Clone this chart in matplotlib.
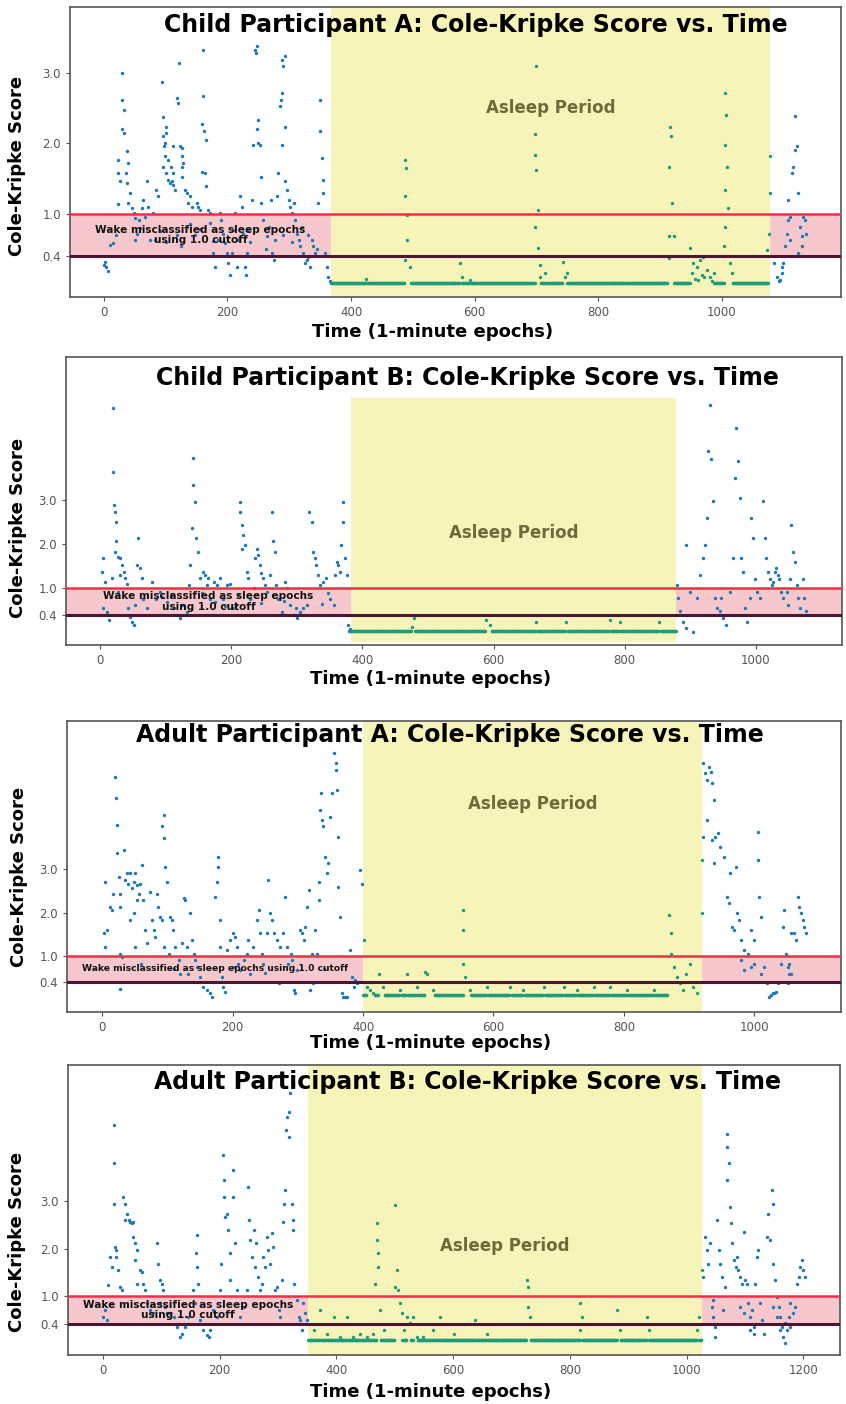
import numpy as np
import matplotlib.pyplot as plt

plt.rcParams['font.family'] = ['DejaVu Sans']

titles = ["Child Participant A: Cole-Kripke Score vs. Time",
          "Child Participant B: Cole-Kripke Score vs. Time",
          "Adult Participant A: Cole-Kripke Score vs. Time",
          "Adult Participant B: Cole-Kripke Score vs. Time"]

# asleep period (epochs) and the floor score while asleep
sleep_start = [368, 383, 400, 351]
sleep_end = [1078, 878, 920, 1027]
floor_level = [0.02, 0.03, 0.09, 0.06]

# (epoch, score)
child_a_pts = [
    (0, 0.28), (1, 0.32), (4, 0.25), (7, 0.19), (10, 0.56), (15, 0.58), (20, 0.7), (23, 1.14), (26, 1.46),
    (23, 1.58), (23, 1.77), (30, 3.0), (29, 2.62), (32, 2.48), (29, 2.2), (32, 2.15), (37, 1.9), (39, 1.72),
    (36, 1.58), (37, 1.44), (42, 1.29), (39, 1.15), (45, 1.08), (48, 1.01), (50, 0.94), (53, 0.72), (50, 0.63),
    (56, 0.91), (58, 0.8), (61, 1.08), (64, 1.2), (66, 0.96), (69, 1.46), (72, 1.1), (74, 0.63), (80, 1.01),
    (85, 1.34), (88, 1.25), (83, 0.63), (90, 0.75), (94, 2.88), (95, 2.38), (96, 2.1), (97, 1.96), (99, 1.82),
    (96, 1.67), (101, 1.58), (104, 1.48), (100, 2.24), (101, 2.15), (99, 2.0), (100, 0.6), (107, 1.44),
    (110, 1.46), (112, 1.41), (108, 1.67), (104, 1.77), (111, 1.58), (112, 1.96), (115, 1.34), (118, 0.7),
    (119, 2.65), (120, 2.57), (121, 3.14), (123, 1.96), (124, 0.55), (126, 1.93), (126, 1.82), (127, 1.67),
    (128, 1.72), (126, 1.53), (131, 1.34), (134, 1.29), (136, 1.15), (139, 1.25), (140, 0.85), (142, 1.1),
    (147, 0.7), (150, 1.15), (153, 1.1), (155, 1.06), (155, 0.78), (158, 1.6), (159, 2.27), (161, 2.67),
    (161, 3.33), (162, 2.17), (164, 1.58), (165, 2.05), (166, 1.39), (169, 1.06), (172, 1.01), (172, 0.87),
    (176, 0.62), (177, 0.44), (180, 0.25), (185, 0.63), (188, 1.01), (190, 0.91), (193, 0.72), (196, 0.58),
    (199, 0.44), (201, 0.3), (204, 0.13), (207, 0.44), (209, 0.77), (212, 1.01), (215, 0.25), (217, 0.63),
    (220, 1.25), (223, 1.1), (225, 0.72), (228, 0.25), (230, 0.13), (231, 0.44), (234, 0.77), (237, 0.6),
    (239, 1.2), (242, 1.98), (244, 3.33), (246, 3.29), (247, 3.38), (250, 2.0), (250, 2.34), (248, 2.2),
    (253, 1.98), (255, 1.53), (255, 1.15), (258, 0.91), (262, 0.5), (264, 0.68), (268, 0.82), (270, 1.2),
    (272, 0.44), (275, 0.35), (277, 0.63), (280, 1.25), (282, 1.58), (285, 2.53), (286, 2.62), (288, 2.72),
    (288, 3.19), (290, 3.1), (293, 3.24), (293, 2.24), (288, 1.98), (290, 0.7), (293, 1.46), (296, 1.34),
    (299, 1.2), (301, 1.1), (304, 1.01), (305, 0.6), (307, 1.15), (309, 0.91), (312, 0.72), (315, 0.63),
    (317, 0.54), (320, 0.82), (323, 0.44), (325, 0.3), (328, 0.35), (330, 0.7), (331, 0.39), (334, 0.25),
    (336, 0.63), (339, 0.54), (342, 0.44), (345, 0.5), (347, 1.15), (349, 2.17), (350, 2.62), (353, 1.79),
    (354, 1.48), (355, 1.29), (358, 0.44), (361, 0.25), (363, 0.11), (366, 0.04),
    # asleep
    (425, 0.08), (487, 1.77), (489, 1.65), (487, 1.25), (490, 0.99), (491, 0.63), (488, 0.35), (496, 0.25),
    (576, 0.3), (579, 0.11), (593, 0.06), (700, 3.1), (698, 2.13), (698, 1.84), (700, 1.63), (703, 1.06),
    (698, 0.82), (703, 0.52), (706, 0.28), (706, 0.11), (714, 0.16), (743, 0.32), (746, 0.11), (749, 0.16),
    (917, 2.24), (918, 2.1), (914, 1.67), (920, 1.15), (914, 0.68), (922, 0.68), (914, 0.38), (949, 0.52),
    (954, 0.3), (960, 0.25), (965, 0.35), (970, 0.39), (976, 0.2), (968, 0.13), (952, 0.16), (981, 0.11),
    (987, 0.16), (956, 0.08), (972, 0.1), (962, 0.06), (985, 0.05), (1006, 2.72), (1007, 2.41), (1006, 1.98),
    (1009, 1.67), (1006, 1.34), (1011, 1.08), (1006, 0.82), (1004, 0.54), (1014, 0.3), (1017, 0.16),
    # awake again
    (1078, 1.82), (1078, 1.29), (1076, 0.72), (1073, 0.49), (1084, 0.3), (1089, 0.11), (1092, 0.04),
    (1095, 0.06), (1097, 0.16), (1100, 0.3), (1103, 0.54), (1106, 0.72), (1108, 0.91), (1111, 0.96),
    (1108, 1.2), (1114, 1.58), (1116, 1.67), (1119, 1.91), (1122, 1.96), (1124, 1.29), (1119, 2.39),
    (1127, 0.82), (1130, 0.68), (1132, 0.96), (1135, 0.91), (1137, 0.72), (1130, 0.54), (1124, 0.44),
    (1111, 0.63), (1097, 0.25)]
child_a_floor = [(367, 424), (426, 486), (497, 575), (580, 592), (594, 697), (707, 713), (715, 742),
                 (750, 912), (923, 948), (988, 1003), (1018, 1075)]

child_b_pts = [
    (3, 1.38), (5, 1.68), (8, 1.15), (5, 0.55), (10, 0.47), (13, 0.28), (18, 1.23), (20, 5.07), (20, 3.64),
    (21, 2.89), (23, 2.73), (24, 2.51), (25, 2.06), (23, 1.83), (28, 1.72), (30, 1.68), (33, 1.53), (36, 1.38),
    (38, 1.23), (41, 1.11), (30, 1.3), (28, 0.92), (43, 0.55), (46, 0.36), (48, 0.25), (51, 0.17), (53, 0.62),
    (58, 2.13), (56, 1.53), (61, 1.45), (64, 1.23), (66, 0.77), (71, 0.55), (79, 1.15), (86, 0.77), (91, 0.92),
    (102, 0.7), (112, 0.55), (117, 0.4), (122, 0.32), (132, 0.47), (135, 1.08), (137, 1.53), (140, 2.36),
    (142, 3.34), (145, 2.96), (142, 3.94), (147, 2.13), (150, 1.83), (152, 1.23), (157, 1.38), (160, 1.3),
    (163, 1.08), (165, 1.23), (168, 0.77), (173, 1.15), (178, 1.08), (183, 1.23), (188, 0.77), (193, 1.08),
    (198, 1.11), (203, 0.55), (208, 0.62), (213, 2.96), (214, 2.73), (216, 2.43), (218, 2.21), (221, 1.98),
    (217, 1.9), (224, 1.38), (226, 1.23), (229, 0.77), (234, 1.0), (236, 1.68), (239, 1.9), (241, 1.75),
    (244, 1.53), (246, 1.34), (249, 1.23), (251, 1.08), (254, 0.92), (259, 1.3), (262, 2.73), (264, 2.06),
    (267, 1.83), (269, 1.08), (272, 0.77), (277, 0.47), (282, 1.15), (285, 1.0), (290, 0.62), (295, 0.4),
    (300, 0.32), (305, 0.47), (310, 0.55), (315, 0.62), (318, 2.73), (323, 2.51), (325, 1.83), (328, 1.68),
    (330, 1.53), (333, 1.3), (335, 1.08), (340, 1.15), (345, 1.23), (351, 0.77), (356, 0.62), (358, 1.3),
    (361, 1.6), (363, 1.53), (366, 1.38), (368, 1.98), (370, 2.51), (371, 2.96), (373, 1.68), (376, 1.3),
    (378, 0.17), (381, 0.09),
    (95, 0.8), (108, 0.85), (125, 0.62), (155, 0.9), (175, 0.7), (190, 0.6), (210, 0.85), (245, 0.66),
    (280, 0.72), (298, 0.55), (338, 0.65), (348, 0.9),
    # asleep
    (478, 0.32), (475, 0.13), (589, 0.28), (595, 0.17), (665, 0.25), (711, 0.25), (777, 0.28), (793, 0.25),
    (853, 0.25),
    # awake again
    (879, 1.07), (882, 0.78), (884, 0.48), (889, 0.25), (894, 0.1), (904, 0.02), (894, 1.98), (899, 0.92),
    (910, 0.78), (915, 1.3), (920, 1.68), (922, 1.98), (925, 2.58), (927, 4.1), (930, 5.14), (932, 3.92),
    (935, 2.97), (937, 0.78), (940, 0.55), (945, 0.48), (947, 0.78), (950, 0.33), (955, 0.17), (960, 0.92),
    (965, 1.68), (968, 3.49), (970, 4.63), (973, 3.87), (976, 3.04), (978, 1.68), (981, 1.38), (983, 0.55),
    (986, 0.25), (991, 0.78), (993, 2.58), (996, 2.13), (999, 1.22), (1001, 0.92), (1006, 0.78), (1011, 2.97),
    (1014, 2.13), (1016, 1.68), (1019, 1.38), (1021, 1.22), (1024, 1.07), (1026, 1.15), (1029, 1.38),
    (1031, 1.45), (1034, 1.3), (1036, 1.22), (1039, 0.92), (1041, 0.78), (1047, 0.92), (1049, 0.63),
    (1052, 1.22), (1054, 2.43), (1057, 1.83), (1059, 1.6), (1062, 1.07), (1064, 0.78), (1067, 0.55),
    (1072, 1.22), (1074, 0.78), (1077, 0.48)]
child_b_floor = [(380, 474), (480, 587), (597, 663), (667, 709), (713, 775), (779, 791), (795, 851), (855, 878)]

adult_a_pts = [
    (2, 1.52), (5, 1.21), (5, 2.71), (7, 1.59), (12, 2.13), (15, 2.06), (17, 2.44), (20, 5.14), (21, 4.64),
    (22, 4.02), (22, 3.37), (25, 2.83), (27, 2.44), (28, 2.13), (28, 1.05), (28, 0.24), (30, 0.98), (33, 3.45),
    (35, 2.75), (38, 2.91), (40, 2.67), (43, 2.91), (45, 2.56), (48, 2.71), (51, 2.91), (53, 2.64), (56, 2.44),
    (58, 2.67), (61, 3.1), (48, 1.98), (53, 2.29), (43, 1.83), (51, 1.21), (63, 2.29), (66, 1.59), (69, 1.29),
    (74, 2.48), (76, 1.83), (79, 1.59), (81, 1.44), (84, 2.44), (86, 2.13), (89, 1.9), (92, 3.99), (94, 4.26),
    (94, 3.72), (97, 3.06), (99, 2.71), (92, 1.83), (94, 1.21), (102, 1.05), (104, 1.9), (107, 1.83),
    (109, 1.59), (112, 1.21), (117, 0.9), (120, 0.59), (122, 1.29), (125, 2.33), (127, 2.29), (130, 1.21),
    (132, 0.59), (135, 1.98), (138, 1.36), (140, 1.05), (145, 0.75), (150, 0.51), (155, 0.28), (161, 0.21),
    (166, 0.13), (168, 0.05), (173, 2.37), (176, 2.71), (177, 3.29), (178, 3.06), (180, 1.83), (181, 1.21),
    (184, 0.51), (186, 0.28), (189, 0.17), (191, 1.13), (196, 1.36), (201, 1.52), (204, 1.44), (207, 1.21),
    (209, 0.82), (212, 0.67), (217, 0.9), (222, 1.05), (224, 1.36), (227, 0.59), (232, 1.21), (237, 1.83),
    (240, 2.06), (242, 1.52), (245, 1.05), (247, 0.82), (253, 1.52), (255, 2.75), (258, 1.98), (260, 1.83),
    (263, 1.52), (268, 1.36), (271, 0.36), (273, 1.21), (278, 1.52), (281, 2.37), (283, 1.21), (289, 1.05),
    (291, 0.9), (294, 0.21), (296, 0.13), (299, 0.67), (304, 1.59), (306, 1.52), (309, 1.36), (311, 1.67),
    (314, 2.13), (317, 2.52), (319, 0.21), (322, 1.05), (324, 0.36), (327, 1.59), (329, 1.05), (332, 2.29),
    (333, 2.71), (334, 4.37), (335, 4.76), (337, 4.14), (339, 3.99), (342, 3.29), (345, 2.91), (347, 3.14),
    (350, 4.22), (353, 4.76), (355, 5.68), (358, 5.45), (359, 5.3), (360, 4.84), (361, 3.75), (362, 2.6),
    (365, 1.9), (368, 0.13), (370, 0.05), (375, 0.05), (380, 1.13), (383, 0.51), (386, 0.28), (388, 0.44),
    (391, 0.36), (396, 2.98), (398, 2.67), (401, 1.36),
    (60, 0.8), (110, 0.7), (143, 0.9), (200, 0.75), (250, 0.6), (285, 0.8), (340, 0.7), (372, 0.05),
    # asleep
    (406, 0.28), (411, 0.21), (416, 0.13), (424, 0.59), (431, 0.28), (457, 0.21), (467, 0.59), (483, 0.28),
    (495, 0.63), (498, 0.59), (508, 0.2), (554, 2.06), (554, 1.59), (554, 0.82), (557, 0.51), (564, 0.2),
    (590, 0.28), (626, 0.28), (646, 0.2), (677, 0.28), (708, 0.28), (728, 0.2), (754, 0.28), (779, 0.28),
    (805, 0.2), (846, 0.2), (869, 1.94), (872, 1.52), (873, 1.05), (877, 0.75), (881, 0.51), (886, 0.36),
    (891, 0.2), (896, 0.59), (901, 0.82), (906, 0.28), (912, 0.13), (920, 3.21), (920, 1.98),
    # awake again
    (922, 5.45), (925, 5.22), (928, 5.07), (930, 5.37), (933, 5.26), (935, 4.99), (938, 4.6), (928, 4.14),
    (922, 3.75), (935, 3.68), (940, 3.75), (938, 3.14), (945, 3.83), (947, 3.52), (953, 3.29), (958, 2.37),
    (961, 2.21), (963, 2.91), (966, 1.67), (969, 1.59), (972, 3.06), (974, 1.98), (977, 1.83), (979, 1.36),
    (984, 1.13), (990, 1.05), (995, 1.59), (1000, 1.36), (1005, 3.87), (1005, 3.21), (1007, 2.37),
    (1010, 1.9), (1015, 0.75), (1020, 0.36), (1022, 0.05), (1028, 0.13), (1033, 0.17), (1036, 0.36),
    (1041, 0.82), (1044, 1.67), (1046, 2.06), (1049, 1.05), (1051, 0.75), (1054, 0.59), (1056, 1.52),
    (1061, 1.52), (1064, 1.36), (1067, 2.37), (1069, 2.13), (1072, 1.98), (1074, 1.83), (1077, 1.67),
    (1079, 1.52), (979, 0.9), (984, 0.67), (995, 0.75), (1000, 0.82), (1010, 0.59), (1054, 0.82),
    (1056, 0.59), (1051, 0.36), (1031, 0.13), (1026, 0.09)]
adult_a_floor = [(400, 405), (418, 423), (433, 455), (459, 466), (469, 481), (485, 494), (510, 553),
                 (566, 588), (592, 624), (628, 644), (648, 675), (679, 706), (710, 726), (730, 752),
                 (756, 777), (781, 803), (807, 844), (848, 866)]

adult_b_pts = [
    (0, 0.56), (3, 0.7), (6, 0.49), (9, 1.23), (12, 1.82), (15, 1.61), (18, 2.95), (19, 3.8), (19, 4.61),
    (21, 2.04), (22, 1.82), (23, 1.97), (25, 1.54), (29, 1.19), (32, 1.12), (35, 3.09), (38, 2.95), (41, 2.74),
    (44, 2.6), (38, 2.6), (46, 2.56), (49, 2.53), (52, 2.56), (52, 2.25), (55, 2.11), (55, 1.75), (58, 1.97),
    (63, 1.54), (66, 1.51), (69, 1.26), (58, 1.26), (72, 1.12), (75, 0.84), (81, 0.7), (86, 0.63), (93, 2.11),
    (95, 1.68), (98, 1.33), (101, 1.26), (103, 1.12), (97, 0.84), (106, 0.77), (109, 0.63), (115, 0.63),
    (121, 0.56), (126, 0.34), (132, 0.13), (135, 0.2), (141, 0.34), (146, 0.56), (155, 1.12), (158, 0.84),
    (159, 1.9), (161, 1.61), (161, 2.28), (163, 1.26), (166, 0.49), (172, 0.27), (178, 0.17), (181, 0.13),
    (183, 0.27), (189, 0.7), (195, 0.56), (201, 1.12), (203, 1.68), (205, 3.97), (207, 3.45), (208, 3.09),
    (209, 2.67), (212, 2.74), (215, 2.39), (217, 1.9), (218, 1.33), (223, 3.66), (223, 3.09), (226, 2.11),
    (229, 1.12), (235, 0.56), (241, 0.77), (246, 1.12), (249, 3.3), (251, 2.6), (252, 2.18), (255, 1.82),
    (258, 2.39), (261, 1.61), (263, 2.11), (266, 1.4), (269, 1.12), (272, 1.26), (275, 1.82), (278, 1.61),
    (281, 2.25), (283, 1.97), (286, 1.68), (289, 2.32), (292, 2.04), (295, 1.12), (298, 1.19), (301, 0.7),
    (303, 0.56), (306, 1.33), (309, 2.56), (310, 2.95), (312, 3.23), (314, 4.5), (316, 4.78), (318, 4.89),
    (319, 4.36), (320, 5.28), (323, 2.95), (325, 2.6), (326, 2.39), (327, 1.26), (332, 0.91), (335, 0.56),
    (338, 0.49), (341, 0.27), (343, 0.84), (346, 0.63), (349, 0.49),
    # asleep
    (355, 0.06), (361, 0.27), (372, 0.7), (383, 0.2), (395, 0.56), (406, 0.13), (418, 0.56), (429, 0.13),
    (441, 0.2), (452, 0.13), (463, 0.2), (469, 2.53), (470, 2.18), (471, 1.9), (472, 1.61), (466, 1.26),
    (475, 0.7), (481, 0.27), (500, 2.92), (503, 1.54), (506, 1.12), (500, 1.19), (509, 0.84), (512, 0.63),
    (515, 0.27), (521, 0.56), (526, 0.42), (532, 0.56), (538, 0.13), (549, 0.13), (566, 0.27), (578, 0.56),
    (601, 0.2), (638, 0.49), (658, 0.2), (726, 1.33), (729, 1.19), (729, 0.77), (732, 0.56), (818, 0.84),
    (821, 0.56), (818, 0.27), (881, 0.7), (886, 0.27), (932, 0.56), (935, 0.27), (1018, 0.27), (1021, 0.56),
    # awake again
    (1026, 1.54), (1029, 1.4), (1032, 2.25), (1035, 1.97), (1037, 1.68), (1040, 2.11), (1046, 0.91),
    (1049, 0.34), (1052, 2.6), (1055, 1.97), (1057, 1.68), (1060, 1.4), (1063, 0.7), (1066, 1.19),
    (1069, 4.43), (1070, 4.15), (1072, 3.8), (1069, 3.45), (1075, 2.88), (1076, 2.53), (1078, 2.11),
    (1081, 1.75), (1084, 1.61), (1087, 1.82), (1089, 1.54), (1092, 1.4), (1095, 1.26), (1098, 2.35),
    (1100, 1.33), (1103, 1.26), (1106, 0.84), (1109, 0.56), (1112, 0.7), (1115, 0.34), (1118, 1.26),
    (1121, 1.82), (1123, 1.97), (1126, 0.84), (1129, 0.49), (1132, 0.2), (1138, 2.25), (1140, 2.74),
    (1143, 2.18), (1146, 3.23), (1149, 2.95), (1148, 1.68), (1152, 1.33), (1155, 0.98), (1158, 0.77),
    (1161, 0.56), (1163, 0.34), (1166, 0.13), (1169, 0.0), (1172, 0.27), (1175, 0.56), (1178, 0.34),
    (1183, 0.63), (1186, 0.77), (1189, 1.26), (1192, 1.4), (1195, 1.61), (1198, 1.75), (1200, 1.54),
    (1203, 1.4), (1092, 0.77), (1098, 0.63), (1109, 0.27), (1115, 0.2), (1161, 0.27), (1169, 0.42),
    (1149, 0.77), (1155, 0.56), (1178, 0.84), (1046, 0.56), (1043, 0.77), (1049, 0.13)]
adult_b_floor = [(352, 360), (362, 370), (374, 382), (384, 394), (396, 405), (407, 417), (419, 428),
                 (430, 440), (442, 451), (453, 462), (464, 468), (476, 480), (482, 499), (513, 520),
                 (527, 531), (539, 548), (550, 565), (567, 577), (579, 600), (602, 637), (639, 657),
                 (659, 725), (733, 817), (822, 880), (887, 931), (936, 1017), (1022, 1025)]

all_pts = [child_a_pts, child_b_pts, adult_a_pts, adult_b_pts]
all_floor = [child_a_floor, child_b_floor, adult_a_floor, adult_b_floor]

# layout
axes_pos = [[0.0827, 0.7885, 0.9113, 0.2066],
            [0.0780, 0.5406, 0.9170, 0.2051],
            [0.0792, 0.2792, 0.9149, 0.2073],
            [0.0804, 0.0349, 0.9125, 0.2066]]
xlims = [(-55, 1193), (-52, 1131), (-54, 1133), (-60, 1263)]
ylims = [(-0.18, 3.94), (-0.28, 6.23), (-0.30, 6.43), (-0.25, 5.88)]
xtick_max = [1000, 1000, 1000, 1200]
yellow_top = [None, 5.3, None, None]
yellow_bottom = [None, -0.21, None, None]
asleep_y = [2.5, 2.25, 4.5, 2.05]
title_y = [0.938, 0.927, 0.952, 0.941]
title_x = [0.527, 0.518, 0.495, 0.518]
ylabel_xy = [(-0.057, 0.45), (-0.050, 0.406), (-0.050, 0.464), (-0.055, 0.39)]
xlabel_y = [-0.09, -0.087, -0.075, -0.097]
wake_text = ["Wake misclassified as sleep epochs\nusing 1.0 cutoff",
             "Wake misclassified as sleep epochs\nusing 1.0 cutoff",
             "Wake misclassified as sleep epochs using 1.0 cutoff",
             "Wake misclassified as sleep epochs\nusing 1.0 cutoff"]
wake_fs = [7.6, 7.6, 6.6, 7.6]

fig = plt.figure(figsize=(8.46, 14.04), dpi=100)

for i in range(4):
    ax = fig.add_axes(axes_pos[i])
    t = [p[0] for p in all_pts[i]]
    s = [p[1] for p in all_pts[i]]
    for a, b in all_floor[i]:
        for e in range(a, b + 1):
            t.append(e)
            s.append(floor_level[i])
    t = np.array(t)
    s = np.array(s)

    x0, x1 = xlims[i]
    y0, y1 = ylims[i]
    st, en = sleep_start[i], sleep_end[i]
    asleep = (t >= st) & (t <= en)

    # misclassification band outside the asleep period
    ax.fill_between([x0, st], 0.4, 1.0, color='#f6c8cd', zorder=1, linewidth=0)
    ax.fill_between([en, x1], 0.4, 1.0, color='#f6c8cd', zorder=1, linewidth=0)

    yb = y0 if yellow_bottom[i] is None else yellow_bottom[i]
    yt = y1 if yellow_top[i] is None else yellow_top[i]
    ax.fill_between([st, en], yb, yt, color='#f6f4b8', zorder=1, linewidth=0)

    ax.scatter(t[~asleep], s[~asleep], s=6, color='#1f77b4', linewidths=0, zorder=2)
    ax.scatter(t[asleep], s[asleep], s=6, color='#1c9c7c', linewidths=0, zorder=2)

    ax.axhline(1.0, color='#ff2a45', lw=1.8, zorder=4)
    ax.axhline(0.4, color='#4a1636', lw=2.2, zorder=4)

    ax.text((st + en) / 2, asleep_y[i], 'Asleep Period', ha='center', va='center',
            fontsize=12, fontweight='bold', color='#6d6a3b', zorder=5)
    ax.text((x0 + st) / 2, 0.7, wake_text[i], ha='center', va='center',
            fontsize=wake_fs[i], fontweight='bold', color='#111111', zorder=5, linespacing=1.1)
    ax.text(title_x[i], title_y[i], titles[i], transform=ax.transAxes, ha='center', va='center',
            fontsize=17, fontweight='bold', color='black', zorder=6)

    ax.set_xlim(x0, x1)
    ax.set_ylim(y0, y1)
    ax.set_xticks(np.arange(0, xtick_max[i] + 1, 200))
    ax.set_yticks([0.4, 1.0, 2.0, 3.0])
    ax.set_yticklabels(['0.4', '1.0', '2.0', '3.0'])
    ax.tick_params(labelsize=8.5, colors='#555555', length=3)

    ax.set_xlabel('Time (1-minute epochs)', fontsize=13, fontweight='bold')
    ax.xaxis.set_label_coords(0.47, xlabel_y[i])
    ax.set_ylabel('Cole-Kripke Score', fontsize=13, fontweight='bold')
    ax.yaxis.set_label_coords(*ylabel_xy[i])

    for sp in ax.spines.values():
        sp.set_color('#555555')
        sp.set_linewidth(1.2)

fig.savefig('out.png', dpi=100)
